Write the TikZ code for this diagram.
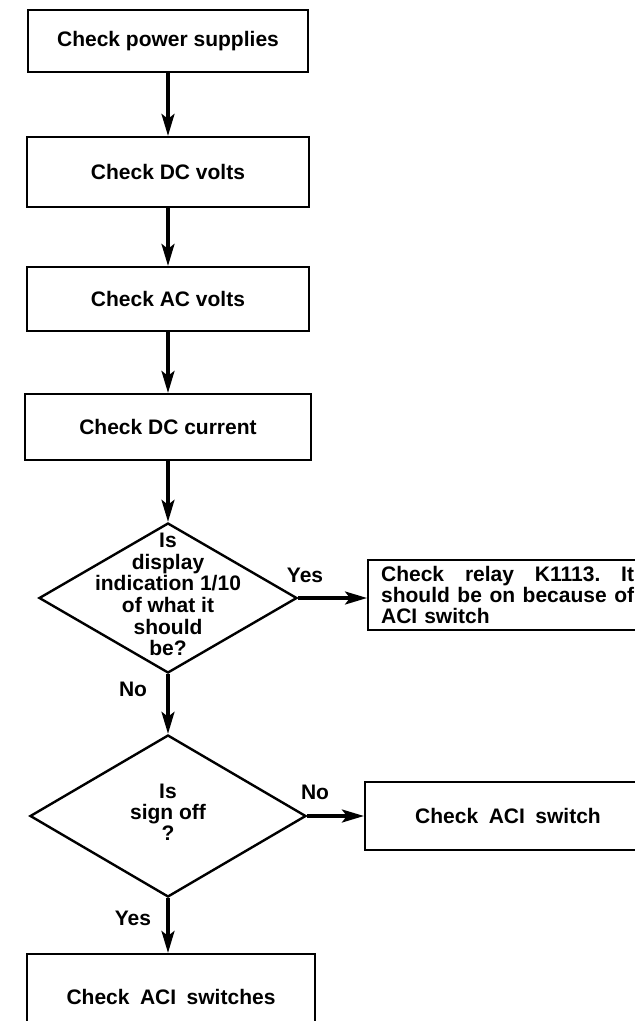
\documentclass[tikz,border=0pt]{standalone}
\usepackage{fontspec}
\setmainfont{Liberation Sans}
\usetikzlibrary{shapes.geometric,arrows.meta}
\tikzset{
  txt/.style={font=\fontsize{10.5}{10.5}\selectfont\bfseries},
  stepbox/.style={txt, draw, line width=1.1pt, rectangle, inner sep=0pt, align=center},
  decision/.style={txt, draw, line width=1.2pt, diamond, inner sep=0pt},
  arr/.style={line width=1.6pt, -{Stealth[length=11pt,width=6.5pt,inset=2.5pt]}},
  lbl/.style={txt, inner sep=0pt}
}
\newcommand{\dtext}[1]{\smash{\makebox[0pt]{\raisebox{-2.5pt}{\begin{tabular}{@{}c@{}}#1\end{tabular}}}}}
\begin{document}
\begin{tikzpicture}[x=0.5pt,y=-0.5pt]
\clip (0,0) rectangle (635,1021);
\node[stepbox, minimum width=140pt, minimum height=31pt] (b1) at (168,41) {Check power supplies};
\node[stepbox, minimum width=141pt, minimum height=35pt] (b2) at (168,172) {Check DC volts};
\node[stepbox, minimum width=141pt, minimum height=32pt] (b3) at (168,299) {Check AC volts};
\node[stepbox, minimum width=143pt, minimum height=33pt] (b4) at (168,427) {Check DC current};
\node[decision, minimum width=129pt, minimum height=75pt] (d1) at (168,598)
  {\dtext{Is\\display\\indication 1/10\\of what it\\should\\be?}};
\node[stepbox, anchor=west, minimum width=156.5pt, minimum height=35pt, inner xsep=6.5pt,
      text width=143.5pt, align=left] (relay) at (367,595)
  {\raisebox{-2pt}{\makebox[126.5pt][l]{Check\hfill relay\hfill K1113.\hfill It}}\\
   \raisebox{-2pt}{\makebox[126.5pt][l]{should\hfill be\hfill on\hfill because\hfill of}}\\
   \raisebox{-2pt}{ACI switch}};
\node[decision, minimum width=138pt, minimum height=81pt] (d2) at (168,816)
  {\dtext{Is\\sign off\\?}};
\node[stepbox, minimum width=143pt, minimum height=34pt] (aci) at (508,816) {Check\enspace ACI\enspace switch};
\node[stepbox, minimum width=144pt, minimum height=43pt] (last) at (171,997) {Check\enspace ACI\enspace switches};
\draw[arr] (b1) -- (b2);
\draw[arr] (b2) -- (b3);
\draw[arr] (b3) -- (b4);
\draw[arr] (b4) -- (d1);
\draw[arr] (d1.east) -- (d1.east -| relay.west);
\draw[arr] (d1) -- (d2);
\draw[arr] (d2) -- (aci);
\draw[arr] (d2.south) -- (d2.south |- last.north);
\node[lbl] (ly1) at (305,575) {Yes};
\node[lbl] (ln1) at (133,689) {No};
\node[lbl] (ln2) at (315,792) {No};
\node[lbl] (ly2) at (133,918) {Yes};
\end{tikzpicture}
\end{document}
